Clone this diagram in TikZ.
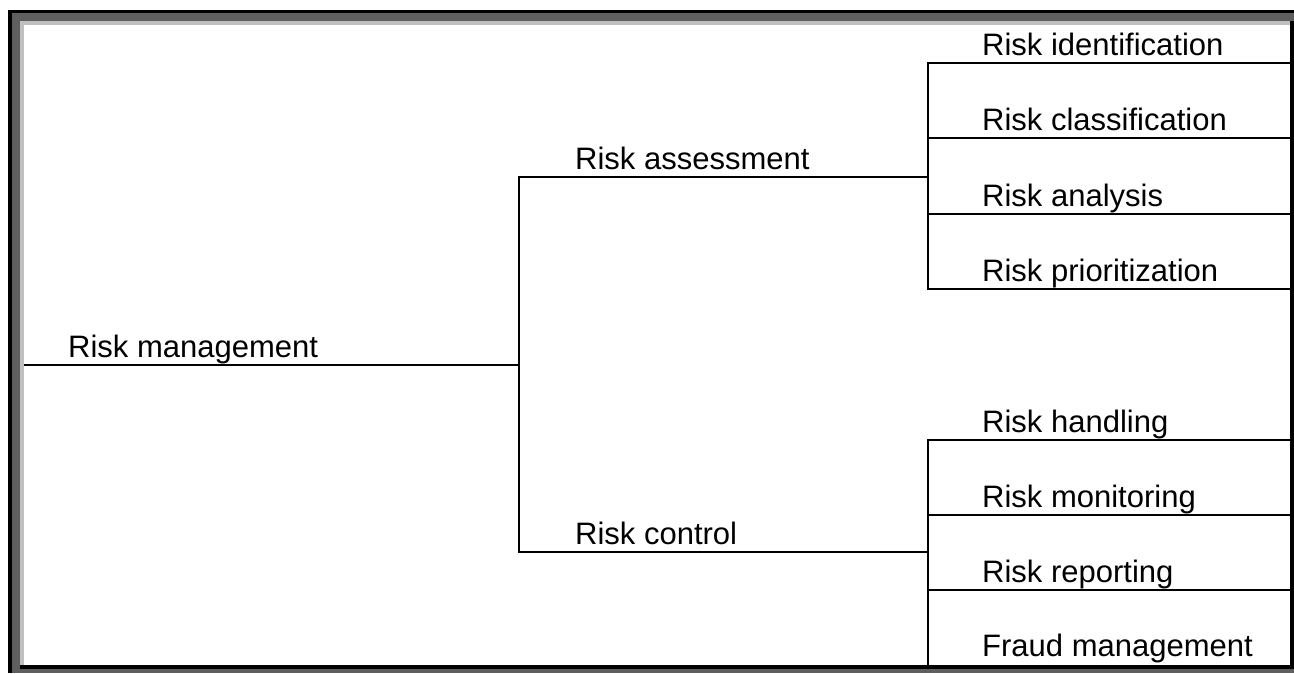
\documentclass[tikz,border=0pt]{standalone}
\usepackage{fontspec}
\setmainfont{Liberation Sans}
\definecolor{framedark}{HTML}{5F5F5F}
\definecolor{framelight}{HTML}{C0C0C0}

\begin{document}
\begin{tikzpicture}[x=1pt, y=-1pt,
    branch/.style={line width=2pt, line join=miter},
    risktext/.style={anchor=base west, inner sep=0pt, font=\fontsize{31}{36}\selectfont}]
    \useasboundingbox (0,0) rectangle (1294,673);
    \fill[white] (0,0) rectangle (1294,673);
    \fill[black] (8,10) rectangle (1294,673);
    \fill[framedark] (12,13) rectangle (1294,21);
    \fill[framedark] (12,13) rectangle (20,673);
    \fill[framedark] (12,669) rectangle (1294,673);
    \fill[framelight] (20,21) rectangle (1290,25);
    \fill[framelight] (20,21) rectangle (24,665);
    \fill[white] (24,25) rectangle (1290,665);

    \coordinate (M0) at (24,365);
    \coordinate (M1) at (519,365);
    \coordinate (A0) at (519,177);
    \coordinate (A1) at (928,177);
    \coordinate (C0) at (519,552);
    \coordinate (C1) at (928,552);
    \coordinate (cbot) at (928,665);
    \foreach \y [count=\i] in {63,138,214,289} {
        \coordinate (a\i) at (928,\y);
        \coordinate (a\i e) at (1291,\y);
    }
    \foreach \y [count=\i] in {440,515,590} {
        \coordinate (c\i) at (928,\y);
        \coordinate (c\i e) at (1291,\y);
    }

    \node[risktext] (mgmt) at (68,357) {Risk management};
    \node[risktext] (assess) at (575,169) {Risk assessment};
    \node[risktext] (control) at (575,544) {Risk control};
    \foreach \t/\y [count=\i] in {identification/55, classification/130, analysis/206, prioritization/281}
        \node[risktext] (ta\i) at (982,\y) {Risk \t};
    \foreach \t/\y [count=\i] in {Risk handling/432, Risk monitoring/507, Risk reporting/582, Fraud management/656}
        \node[risktext] (tc\i) at (982,\y) {\t};

    \draw[branch] (M0) -- (M1);
    \draw[branch] (A1) -- (A0) -- (C0) -- (C1);
    \draw[branch] (a1e) -- (a1) -- (a4) -- (a4e);
    \draw[branch] (a2) -- (a2e);
    \draw[branch] (a3) -- (a3e);
    \draw[branch] (c1e) -- (c1) -- (cbot);
    \draw[branch] (c2) -- (c2e);
    \draw[branch] (c3) -- (c3e);
\end{tikzpicture}
\end{document}
